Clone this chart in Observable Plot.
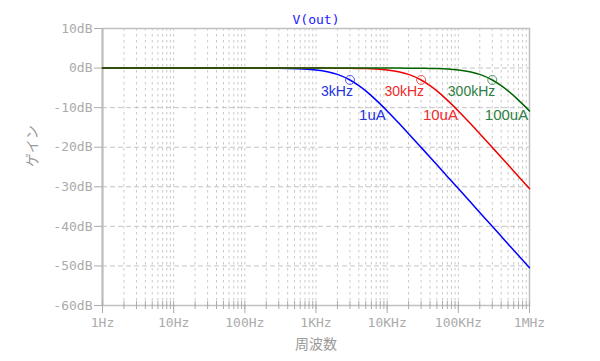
<!DOCTYPE html>
<html>
<head>
<meta charset="utf-8">
<script src="https://cdn.jsdelivr.net/npm/d3@7"></script>
<script src="https://cdn.jsdelivr.net/npm/@observablehq/plot@0.6"></script>
<style>
  html, body { margin: 0; padding: 0; background: #fff; }
  #chart svg { display: block; }
</style>
</head>
<body>
<div id="chart"></div>
<script>
// ---- data ----
const freqs = [1, 10, 100, 300, 1000, 1500, 2000, 3000, 4000, 5000, 7000, 10000, 15000, 20000, 30000, 40000, 50000, 70000, 100000, 150000, 200000, 300000, 400000, 500000, 700000, 1000000];
const gain1uA   = [0, 0, 0, -0.04, -0.46, -0.97, -1.6, -3.01, -4.44, -5.77, -8.09, -10.83, -14.15, -16.57, -20.04, -22.52, -24.45, -27.37, -30.46, -33.98, -36.48, -40.0, -42.5, -44.44, -47.36, -50.46];
const gain10uA  = [0, 0, 0, 0, 0, -0.01, -0.02, -0.04, -0.08, -0.12, -0.23, -0.46, -0.97, -1.6, -3.01, -4.44, -5.77, -8.09, -10.83, -14.15, -16.57, -20.04, -22.52, -24.45, -27.37, -30.46];
const gain100uA = [0, 0, 0, 0, 0, 0, 0, 0, 0, 0, 0, 0, -0.01, -0.02, -0.04, -0.08, -0.12, -0.23, -0.46, -0.97, -1.6, -3.01, -4.44, -5.77, -8.09, -10.83];

const seriesNames = ["1uA", "10uA", "100uA"];
const cutoffFreqs = [3000, 30000, 300000];
const cutoffGain = -3;
const cutoffLabels = ["3kHz", "30kHz", "300kHz"];
const nameLabelFreqs = [6200, 56000, 475000];
const nameLabelGain = -12;

const decadeTicks = [1, 10, 100, 1000, 10000, 100000, 1000000];
const decadeLabels = ["1Hz", "10Hz", "100Hz", "1KHz", "10KHz", "100KHz", "1MHz"];
const dbTicks = [-60, -50, -40, -30, -20, -10, 0, 10];
const title = "V(out)";
const xLabel = "周波数";
const yLabel = "ゲイン";

// ---- build tables ----
const gains = [gain1uA, gain10uA, gain100uA];
const lineColors = ["#0000ff", "#f00000", "#006400"];
const textColors = ["#2233e0", "#ee2a2a", "#2e7d42"];
const minorTicks = [];
for (let d = 1; d < 1000000; d *= 10) for (let m = 2; m <= 9; m++) minorTicks.push(d * m);
const gridFreqs = [...minorTicks, ...decadeTicks.slice(1, -1)];

const mono = "'DejaVu Sans Mono', monospace";
const sans = "'Liberation Sans', Arial, sans-serif";
const cjk = "'Noto Sans CJK JP', sans-serif";

const marks = [
  Plot.ruleX(gridFreqs, {stroke: "#c8c8c8", strokeDasharray: "2.5,3.5"}),
  Plot.ruleY(dbTicks.slice(1, -1), {stroke: "#c4c4c4", strokeDasharray: "5,3"}),
  Plot.frame({stroke: "#c0c0c0", strokeWidth: 1.5}),
  Plot.ruleX([1], {stroke: "#bdbdbd", strokeWidth: 2}),
  // y axis
  Plot.axisY({ticks: dbTicks, tickSize: 8, tickPadding: 2, tickFormat: d => d + "dB", fontSize: 13, fontFamily: mono, label: null}),
  // x axis: minor crossing ticks
  Plot.axisX({ticks: [...minorTicks, ...decadeTicks], tickSize: 8, dy: -4, tickFormat: () => "", label: null}),
  // x axis: decade ticks + labels
  Plot.axisX({ticks: decadeTicks, tickSize: 8, tickPadding: 4, tickFormat: d => decadeLabels[decadeTicks.indexOf(d)], fontSize: 13, fontFamily: mono, label: null}),
  // title & axis labels
  Plot.text([title], {frameAnchor: "top", lineAnchor: "middle", dy: -9, fill: "#2020ff", fontSize: 13, fontFamily: mono}),
  Plot.text([xLabel], {frameAnchor: "bottom", lineAnchor: "middle", dy: 39, fill: "#9a9a9a", fontSize: 14, fontFamily: cjk}),
  Plot.text([yLabel], {frameAnchor: "left", dx: -70, rotate: -90, fill: "#9a9a9a", fontSize: 14, fontFamily: cjk})
];

gains.forEach((g, s) => {
  const rows = freqs.map((f, i) => ({f, g: g[i]}));
  marks.push(Plot.line(rows, {x: "f", y: "g", stroke: lineColors[s], strokeWidth: 1.5, curve: "monotone-x"}));
  marks.push(Plot.dot([{f: cutoffFreqs[s], g: cutoffGain}], {x: "f", y: "g", r: 4.5, stroke: textColors[s], strokeOpacity: 0.8, fill: "none", strokeWidth: 1}));
  marks.push(Plot.text([{f: cutoffFreqs[s], g: cutoffGain, t: cutoffLabels[s]}], {x: "f", y: "g", text: "t", textAnchor: "end", dx: 3, dy: 12, fill: textColors[s], fontSize: 14, fontFamily: sans}));
  marks.push(Plot.text([{f: nameLabelFreqs[s], g: nameLabelGain, t: seriesNames[s]}], {x: "f", y: "g", text: "t", fill: textColors[s], fontSize: 15, fontFamily: sans}));
});

const chart = Plot.plot({
  width: 600,
  height: 361,
  marginLeft: 102,
  marginRight: 71,
  marginTop: 28,
  marginBottom: 56,
  style: {color: "#ababab", background: "#fff", overflow: "visible", fontSize: "13px", fontFamily: mono},
  x: {type: "log", domain: [1, 1000000]},
  y: {domain: [-60, 10]},
  marks
});
document.getElementById("chart").appendChild(chart);
</script>
</body>
</html>
